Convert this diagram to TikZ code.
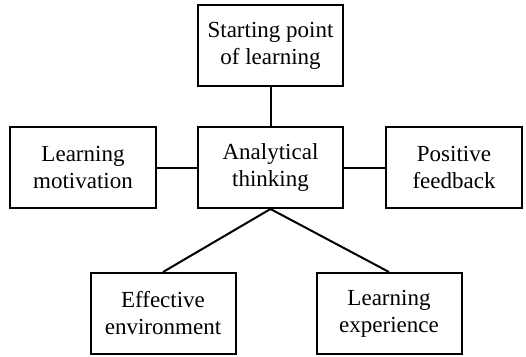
\documentclass[tikz,border=0pt]{standalone}
\usepackage{fontspec}
\setmainfont{Liberation Serif}
\usepackage{tikz}
\usetikzlibrary{positioning}

\begin{document}
\begin{tikzpicture}[x=1pt, y=-1pt, line width=2pt,
    font=\fontsize{23}{27}\selectfont,
    box/.style={draw, align=center, minimum width=145pt, minimum height=81pt, inner sep=0pt}]
  \useasboundingbox (0,0) rectangle (526,356);
  % centre and the top box
  \node[box] (think) at (270.5,167.5) {Analytical\\thinking};
  \node[box] (start) at (270.5,45.5) {Starting point\\of learning};
  % side boxes
  \node[box, minimum width=146pt] (motiv) at (83,167.5) {Learning\\motivation};
  \node[box, minimum width=136pt] (feed) at (454,167.5) {Positive\\feedback};
  % bottom row
  \node[box] (env) at (163,313.5) {Effective\\environment};
  \node[box] (exper) at (389,313.5) {Learning\\experience};
  % links
  \draw (start) -- (think);
  \draw (motiv) -- (think);
  \draw (think) -- (feed);
  \draw (think.south) -- (env.north);
  \draw (think.south) -- (exper.north);
\end{tikzpicture}
\end{document}
